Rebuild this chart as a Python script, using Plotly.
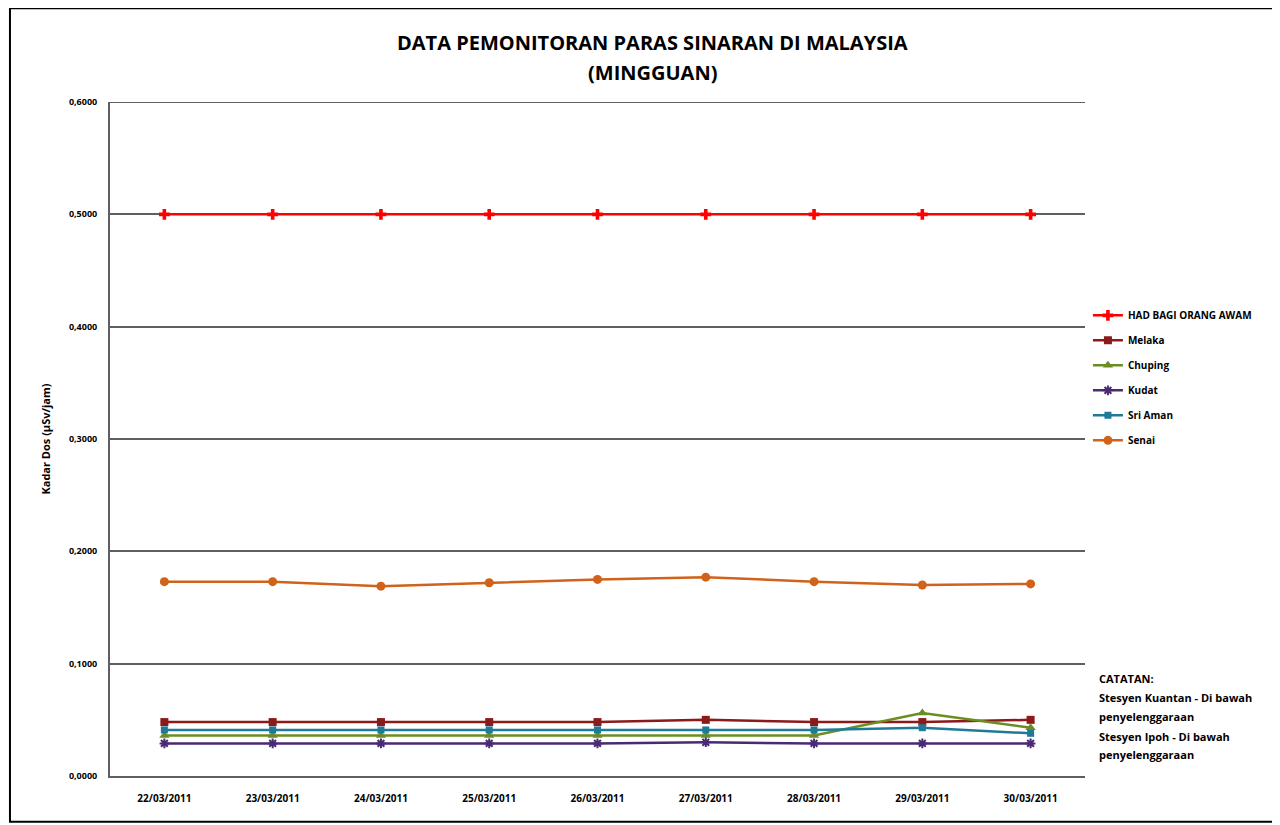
import plotly.graph_objects as go

dates = ["22/03/2011", "23/03/2011", "24/03/2011", "25/03/2011", "26/03/2011",
         "27/03/2011", "28/03/2011", "29/03/2011", "30/03/2011"]
had = [0.5, 0.5, 0.5, 0.5, 0.5, 0.5, 0.5, 0.5, 0.5]
melaka = [0.048, 0.048, 0.048, 0.048, 0.048, 0.050, 0.048, 0.048, 0.050]
chuping = [0.036, 0.036, 0.036, 0.036, 0.036, 0.036, 0.036, 0.056, 0.043]
kudat = [0.029, 0.029, 0.029, 0.029, 0.029, 0.030, 0.029, 0.029, 0.029]
sriaman = [0.041, 0.041, 0.041, 0.041, 0.041, 0.041, 0.041, 0.043, 0.038]
senai = [0.173, 0.173, 0.169, 0.172, 0.175, 0.177, 0.173, 0.170, 0.171]
yticks = [0.0, 0.1, 0.2, 0.3, 0.4, 0.5, 0.6]
ytick_labels = ["0,0000", "0,1000", "0,2000", "0,3000", "0,4000", "0,5000", "0,6000"]
notes = ["CATATAN:", "Stesyen Kuantan - Di bawah", "penyelenggaraan",
         "Stesyen Ipoh - Di bawah", "penyelenggaraan"]

series = [
    ("HAD BAGI ORANG AWAM", had, "#FF0000", "cross", 9),
    ("Melaka", melaka, "#8B1A1A", "square", 8),
    ("Chuping", chuping, "#6B8E23", "triangle-up", 9),
    ("Kudat", kudat, "#4B2A74", "asterisk-open", 8),
    ("Sri Aman", sriaman, "#1F7A99", "square", 7),
    ("Senai", senai, "#D0621A", "circle", 9),
]

GRID = "#5f5f5f"
FONT = "Open Sans"

fig = go.Figure()
for i, (name, vals, color, sym, size) in enumerate(series):
    mk = dict(symbol=sym, size=size, color=color)
    if sym == "asterisk-open":
        mk["line"] = dict(color=color, width=2)
    fig.add_trace(go.Scatter(
        x=dates, y=vals, name="<b>%s</b>" % name, mode="lines+markers",
        legendgroup=f"g{i}", line=dict(color=color, width=2.5), marker=mk,
    ))

# page has an 8px body margin, so figure coords = page coords - 8
fig.update_layout(
    width=1280, height=825,
    margin=dict(l=102, r=203, t=94, b=57),
    paper_bgcolor="white", plot_bgcolor="white",
    font=dict(family=FONT, color="#000000"),
    showlegend=True,
    legend=dict(x=1.003, y=0.705, xanchor="left", yanchor="top",
                font=dict(size=10, family=FONT), tracegroupgap=6,
                itemwidth=30, bgcolor="rgba(0,0,0,0)"),
    xaxis=dict(type="category", showgrid=False, showline=True, linecolor=GRID,
               linewidth=2, ticks="", tickfont=dict(size=10, family=FONT),
               tickangle=0, tickprefix="<b>", ticksuffix="</b>", ticklabelstandoff=12),
    yaxis=dict(range=[0, 0.6], tickvals=yticks, ticktext=["<b>%s</b>" % t for t in ytick_labels],
               showgrid=True, gridcolor=GRID, gridwidth=2,
               showline=True, linecolor=GRID, linewidth=2, zeroline=False,
               tickfont=dict(size=9, family=FONT), ticks="", ticklabelstandoff=9,
               title=dict(text="<b>Kadar Dos (μSv/jam)</b>", font=dict(size=11), standoff=16)),
)

fig.add_annotation(xref="paper", yref="paper", x=0.556, y=1.089, showarrow=False,
                   xanchor="center", yanchor="middle",
                   text="<b>DATA PEMONITORAN PARAS SINARAN DI MALAYSIA</b>",
                   font=dict(size=20, family=FONT))
fig.add_annotation(xref="paper", yref="paper", x=0.556, y=1.0445, showarrow=False,
                   xanchor="center", yanchor="middle",
                   text="<b>(MINGGUAN)</b>", font=dict(size=20, family=FONT))

note_y = [678, 697, 716, 736, 754]
for txt, py in zip(notes, note_y):
    fig.add_annotation(
        xref="paper", yref="paper", x=(1097 - 110) / 975, y=(776 - py) / 674,
        xanchor="left", yanchor="middle", align="left", showarrow=False,
        text="<b>%s</b>" % txt, font=dict(size=11, family=FONT),
    )

fig.add_shape(type="line", xref="paper", yref="y", x0=0, x1=1, y0=0.6, y1=0.6,
              line=dict(color=GRID, width=2), layer="below")
fig.add_shape(type="rect", xref="paper", yref="paper",
              x0=-0.1026, x1=1.196, y0=-0.068, y1=1.139,
              line=dict(color="#000000", width=2))

fig.write_html("out.html")
